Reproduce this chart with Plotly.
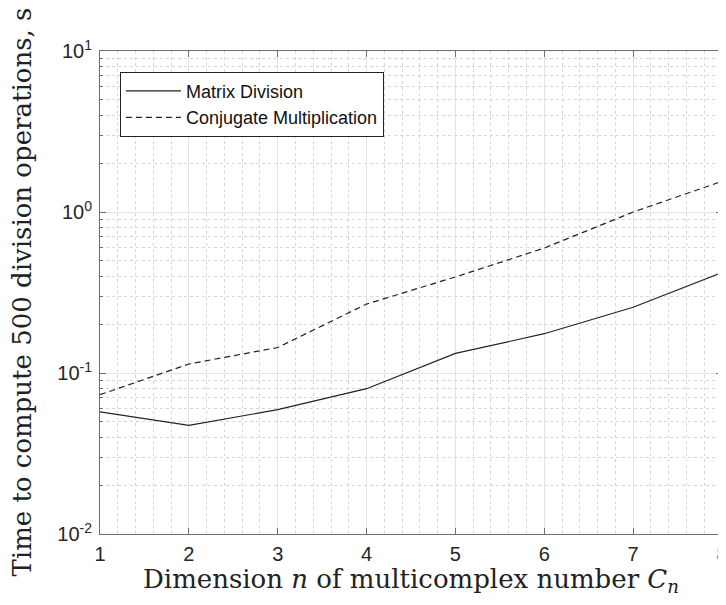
import plotly.graph_objects as go

n_dim = [1, 2, 3, 4, 5, 6, 7, 8]
matrix_division = [0.0573, 0.0473, 0.0592, 0.0799, 0.1324, 0.1754, 0.256, 0.42]
conjugate_mult = [0.0733, 0.1137, 0.144, 0.268, 0.395, 0.597, 1.0, 1.55]
y_tickvals = [0.01, 0.1, 1, 10]
y_ticktext = ["10<sup>-2</sup>", "10<sup>-1</sup>", "10<sup>0</sup>", "10<sup>1</sup>"]
x_minor_vals = [round(1 + 0.2 * i, 1) for i in range(36)]
y_minor_vals = [m * d for d in (0.01, 0.1, 1) for m in range(2, 10)]
x_title = "Dimension <i>n</i> of multicomplex number <i>C</i><sub><i>n</i></sub>"
y_title = "Time to compute 500 division operations, s"

fig = go.Figure()
fig.add_trace(go.Scatter(x=n_dim, y=matrix_division, mode="lines", name="Matrix Division",
                         line=dict(color="#222222", width=1.2)))
fig.add_trace(go.Scatter(x=n_dim, y=conjugate_mult, mode="lines", name="Conjugate Multiplication",
                         line=dict(color="#222222", width=1.2, dash="6px,4px")))

axis_col = "#707070"
tick_font = dict(family="Liberation Sans, Arial", size=20, color="#262626")
title_font = dict(family="DejaVu Serif", size=26, color="#222222")

# page body adds an 8px offset; sizes/margins compensate so the plot box lands at x 100-722, y 51-534
fig.update_layout(
    width=718, height=597,
    margin=dict(l=92, r=4, t=43, b=71),
    paper_bgcolor="white", plot_bgcolor="white",
    showlegend=True,
    legend=dict(x=0.032, y=0.957, xanchor="left", yanchor="top",
                bordercolor="#222222", borderwidth=1, bgcolor="white",
                font=dict(family="Liberation Sans, Arial", size=18, color="#111111"),
                itemwidth=55, tracegroupgap=0),
    xaxis=dict(range=[1, 8], tickvals=n_dim, ticks="inside", ticklen=6, automargin=False,
               tickcolor=axis_col, showline=True, linecolor=axis_col, linewidth=1,
               mirror="ticks", showgrid=True, gridcolor="#e3e3e3", gridwidth=1,
               zeroline=False, tickfont=tick_font, ticklabelstandoff=2,
               ticklabeloverflow="allow",
               minor=dict(tickvals=x_minor_vals, ticks="", showgrid=True, gridcolor="#d6d6d6",
                          griddash="dot", gridwidth=1)),
    yaxis=dict(type="log", range=[-2, 1], tickvals=y_tickvals, ticktext=y_ticktext,
               ticks="inside", ticklen=6, tickcolor=axis_col, automargin=False,
               showline=True, linecolor=axis_col, linewidth=1, mirror="ticks",
               showgrid=True, gridcolor="#e3e3e3", gridwidth=1, zeroline=False,
               tickfont=tick_font, ticklabelstandoff=3, ticklabeloverflow="allow",
               minor=dict(tickvals=y_minor_vals, ticks="inside", ticklen=3, tickcolor=axis_col,
                          showgrid=True, gridcolor="#d6d6d6", griddash="dot", gridwidth=1)),
    annotations=[
        dict(text=x_title, xref="paper", yref="paper", x=0.5, y=0, xanchor="center",
             yanchor="middle", yshift=-46, showarrow=False, font=title_font),
        dict(text=y_title, xref="paper", yref="paper", x=0, y=0.5, xanchor="center",
             yanchor="middle", xshift=-79, textangle=-90, showarrow=False, font=title_font),
    ],
)

fig.write_html("out.html")
